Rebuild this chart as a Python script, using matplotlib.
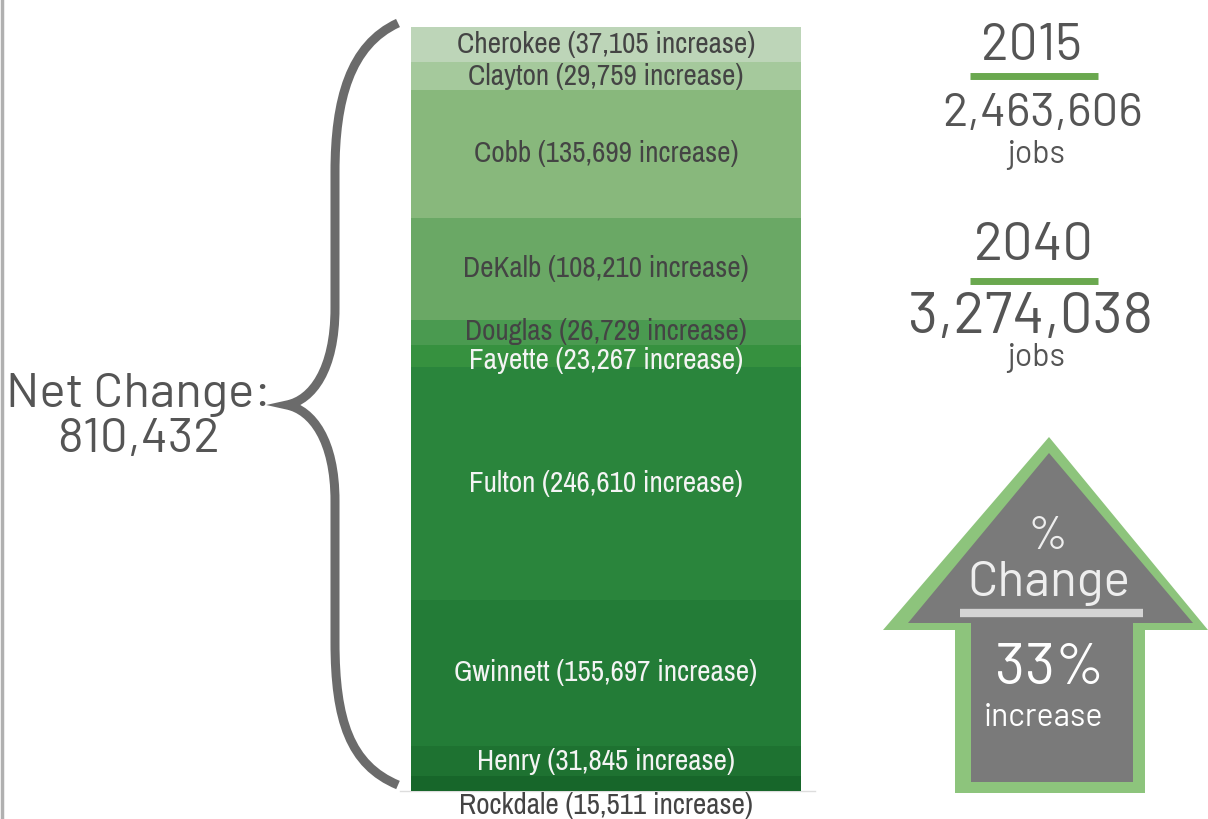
import matplotlib
matplotlib.use("Agg")
import matplotlib.pyplot as plt
from matplotlib.path import Path
from matplotlib.patches import PathPatch, Polygon

counties = ["Cherokee", "Clayton", "Cobb", "DeKalb", "Douglas",
            "Fayette", "Fulton", "Gwinnett", "Henry", "Rockdale"]
increases = [37105, 29759, 135699, 108210, 26729,
             23267, 246610, 155697, 31845, 15511]
colors = ["#bdd5b8", "#a5c99c", "#88b87c", "#6aa865", "#4a9a50",
          "#36913f", "#2a853c", "#237c37", "#1e7231", "#17662a"]
label_colors = ["#444444"] * 5 + ["#f4f4f4"] * 4 + ["#444444"]

jobs_2015 = 2463606
jobs_2040 = 3274038
net_change = jobs_2040 - jobs_2015
pct_change = round(net_change / jobs_2015 * 100)

W, H = 1208, 819
fig = plt.figure(figsize=(W / 100, H / 100), dpi=100)

narrow = ["Archivo Narrow", "Roboto Condensed", "DejaVu Sans"]
din = ["Barlow", "Roboto", "DejaVu Sans"]
grey_txt = "#555555"

# overlay axes in pixel coordinates
ov = fig.add_axes([0, 0, 1, 1])
ov.set_xlim(0, W)
ov.set_ylim(H, 0)
ov.axis("off")

# stacked bar
bx0, bx1, by0, by1 = 411, 801, 27, 791
bax = fig.add_axes([bx0 / W, 1 - by1 / H, (bx1 - bx0) / W, (by1 - by0) / H])
total = sum(increases)
# small nudges so the two thin neighbouring labels don't collide
nudge = {"Douglas": 1, "Fayette": -3}
bottom = 0
for name, val, c, tc in zip(counties, increases, colors, label_colors):
    bax.bar(0, val, width=1, bottom=bottom, color=c, edgecolor="none")
    label = f"{name} ({val:,} increase)"
    if name == "Rockdale":
        bax.annotate(label, (0, bottom + val), xytext=(0, -1), textcoords="offset points",
                     ha="center", va="top", fontsize=21, color=tc, family=narrow,
                     annotation_clip=False)
    else:
        bax.annotate(label, (0, bottom + val / 2), xytext=(0, nudge.get(name, 0)),
                     textcoords="offset points", ha="center", va="center",
                     fontsize=21, color=tc, family=narrow)
    bottom += val
bax.set_xlim(-0.5, 0.5)
bax.set_ylim(total, 0)
bax.axis("off")

# frame lines
ov.plot([2, 2], [0, H], color="#b0b0b0", lw=2.5)
ov.plot([400, 815], [791, 791], color="#dddddd", lw=1)

# curly brace
verts = [(398, 23), (350, 45), (335, 100), (335, 172),
         (335, 308),
         (335, 370), (312, 400), (287, 405),
         (312, 410), (335, 440), (335, 501),
         (335, 642),
         (335, 720), (350, 765), (398, 785)]
codes = [Path.MOVETO, Path.CURVE4, Path.CURVE4, Path.CURVE4,
         Path.LINETO,
         Path.CURVE4, Path.CURVE4, Path.CURVE4,
         Path.CURVE4, Path.CURVE4, Path.CURVE4,
         Path.LINETO,
         Path.CURVE4, Path.CURVE4, Path.CURVE4]
ov.add_patch(PathPatch(Path(verts, codes), facecolor="none", edgecolor="#6b6b6b",
                       lw=6.5, joinstyle="miter", capstyle="butt"))

ov.text(139, 395, "Net Change:", ha="center", va="center", fontsize=35.5,
        color=grey_txt, family=din)
ov.text(139, 440, f"{net_change:,}", ha="center", va="center", fontsize=35.5,
        color=grey_txt, family=din)

# 2015 / 2040 figures
ov.text(1031, 46, "2015", ha="center", va="center", fontsize=37, color=grey_txt, family=din)
ov.plot([970, 1098], [76, 76], color="#6aa84f", lw=5, solid_capstyle="butt")
ov.text(1043, 114, f"{jobs_2015:,}", ha="center", va="center", fontsize=34,
        color=grey_txt, family=din)
ov.text(1036, 155, "jobs", ha="center", va="center", fontsize=23, color=grey_txt, family=din)

ov.text(1034, 246, "2040", ha="center", va="center", fontsize=39, color=grey_txt, family=din)
ov.plot([970, 1098], [281, 281], color="#6aa84f", lw=5, solid_capstyle="butt")
ov.text(1031, 318, f"{jobs_2040:,}", ha="center", va="center", fontsize=42,
        color=grey_txt, family=din)
ov.text(1036, 358, "jobs", ha="center", va="center", fontsize=23, color=grey_txt, family=din)

# arrow
outer = [(1049, 437), (1208, 630), (1145, 630), (1145, 793),
         (955, 793), (955, 630), (883, 630)]
inner = [(1049, 453), (1193, 623), (1133, 623), (1133, 782),
         (971, 782), (971, 623), (908, 623)]
ov.add_patch(Polygon(outer, closed=True, facecolor="#8dc47c", edgecolor="none"))
ov.add_patch(Polygon(inner, closed=True, facecolor="#7a7a7a", edgecolor="none"))
ov.plot([960, 1143], [613, 613], color="#d4d4d4", lw=6, solid_capstyle="butt")
ov.text(1048, 537, "%", ha="center", va="center", fontsize=34, color="#eeeeee", family=din)
ov.text(1049, 583, "Change", ha="center", va="center", fontsize=36, color="#eeeeee", family=din)
ov.text(1050, 670, f"{pct_change}%", ha="center", va="center", fontsize=42,
        color="#ffffff", family=din)
ov.text(1043, 718, "increase", ha="center", va="center", fontsize=23,
        color="#ffffff", family=din)

fig.savefig("out.png", dpi=100)
